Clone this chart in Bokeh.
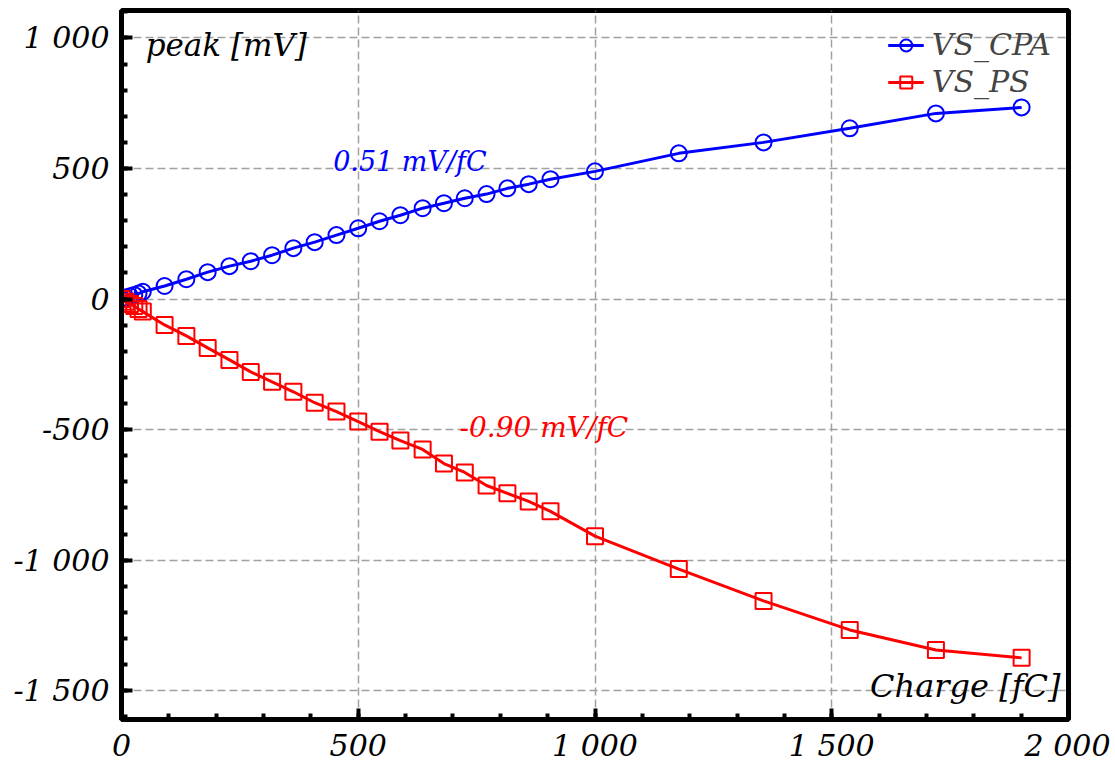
from bokeh.plotting import figure
from bokeh.models import FixedTicker, Label, Range1d, Legend
from bokeh.embed import file_html
from bokeh.resources import INLINE

# ---- data ----
charge = [0, 9, 18, 27, 36, 45, 91, 137, 182, 228, 273, 318, 363, 408, 454, 500,
          545, 589, 636, 681, 725, 771, 815, 860, 906, 1000, 1177, 1356, 1538, 1720, 1901]
vs_cpa = [0, 6, 11, 16, 21, 28, 50, 76, 103, 126, 145, 168, 195, 218, 245, 271,
          298, 321, 348, 367, 386, 402, 424, 440, 459, 489, 558, 600, 654, 711, 734]
vs_ps = [0, -10, -19, -27, -38, -48, -99, -141, -187, -233, -279, -317, -355, -397, -431, -469,
         -508, -542, -576, -630, -664, -714, -744, -775, -813, -908, -1034, -1156, -1267, -1344, -1374]

x_ticks = [0, 500, 1000, 1500, 2000]
x_tick_labels = ["0", "500", "1 000", "1 500", "2 000"]
y_ticks = [-1500, -1000, -500, 0, 500, 1000]
y_tick_labels = ["-1 500", "-1 000", "-500", "0", "500", "1 000"]
x_minor = list(range(0, 2001, 100))
y_minor = list(range(-1600, 1101, 100))

slope_cpa = "0.51 mV/fC"
slope_ps = "-0.90 mV/fC"

FONT = "DejaVu Serif"

p = figure(width=1110, height=765, output_backend="svg", toolbar_location=None,
           x_range=Range1d(0, 2000), y_range=Range1d(-1610, 1105),
           min_border_left=121, min_border_right=42, min_border_top=10, min_border_bottom=45)

p.background_fill_color = "white"
p.border_fill_color = "white"
p.outline_line_color = "black"
p.outline_line_width = 5
p.outline_line_alpha = 1

for ax, ticks, labels, minor in ((p.xaxis[0], x_ticks, x_tick_labels, x_minor),
                                 (p.yaxis[0], y_ticks, y_tick_labels, y_minor)):
    ax.ticker = FixedTicker(ticks=ticks, minor_ticks=minor)
    ax.major_label_overrides = {t: l for t, l in zip(ticks, labels)}
    ax.axis_line_width = 5
    ax.axis_line_color = "black"
    ax.major_tick_in = 11
    ax.major_tick_out = 0
    ax.minor_tick_in = 6
    ax.minor_tick_out = 0
    ax.major_tick_line_width = 4
    ax.minor_tick_line_width = 4
    ax.major_tick_line_color = "black"
    ax.minor_tick_line_color = "black"
    ax.major_label_text_font = FONT
    ax.major_label_text_font_style = "italic"
    ax.major_label_text_font_size = "30px"
    ax.major_label_text_color = "black"

p.xaxis.major_label_standoff = 8
p.yaxis.major_label_standoff = 12

for g in (p.xgrid[0], p.ygrid[0]):
    g.grid_line_color = "#a0a0a0"
    g.grid_line_width = 1.5
    g.grid_line_dash = "8 4"

blue = "#0000ff"
red = "#ff0000"

l1 = p.line(charge, vs_cpa, line_color=blue, line_width=3)
s1 = p.scatter(charge, vs_cpa, marker="circle", size=16, line_color=blue, line_width=2,
               fill_color=None)
l2 = p.line(charge, vs_ps, line_color=red, line_width=3)
s2 = p.scatter(charge, vs_ps, marker="square", size=16, line_color=red, line_width=2,
               fill_color=None)

legend = Legend(items=[("VS_CPA", [l1, s1]), ("VS_PS", [l2, s2])], location="top_right")
legend.label_text_font = FONT
legend.label_text_font_style = "italic"
legend.label_text_font_size = "30px"
legend.background_fill_alpha = 0
legend.border_line_alpha = 0
legend.glyph_width = 36
legend.glyph_height = 30
legend.label_standoff = 8
legend.spacing = 2
legend.margin = 13
legend.padding = 4
p.add_layout(legend)

p.add_layout(Label(x=447, y=467, text=slope_cpa, text_color=blue, text_font=FONT,
                   text_font_style="italic", text_font_size="27px"))
p.add_layout(Label(x=714, y=-554, text=slope_ps, text_color=red, text_font=FONT,
                   text_font_style="italic", text_font_size="28px"))
p.add_layout(Label(x=51, y=905, text="peak [mV]", text_color="black", text_font=FONT,
                   text_font_style="italic", text_font_size="31px"))
p.add_layout(Label(x=1983, y=-1553, text="Charge [fC]", text_color="black", text_font=FONT,
                   text_font_style="italic", text_font_size="32px", text_align="right"))

open("out.html", "w").write(file_html(p, INLINE))
